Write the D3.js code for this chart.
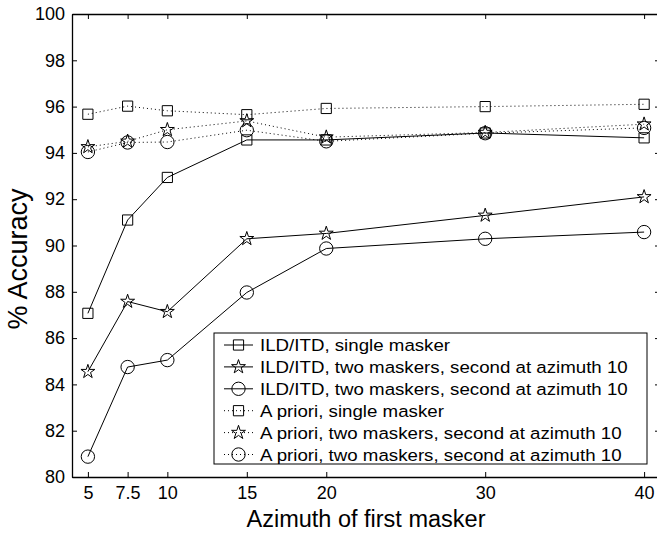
<!DOCTYPE html>
<html>
<head>
<meta charset="utf-8">
<script src="https://cdn.jsdelivr.net/npm/d3@7/dist/d3.min.js"></script>
<style>
  body { margin: 0; background: #fff; }
  svg text { font-family: "Liberation Sans", Arial, Helvetica, sans-serif; fill: #000; }
</style>
</head>
<body>
<svg id="chart" width="657" height="533"></svg>
<script>
// Azimuth of the first masker (degrees)
const azimuths = [5, 7.5, 10, 15, 20, 30, 40];

// % accuracy per condition
const ildSingle        = [87.07, 91.10, 92.94, 94.56, 94.56, 94.86, 94.65];
const ildTwoStar       = [84.55, 87.58, 87.14, 90.29, 90.52, 91.30, 92.10];
const ildTwoCircle     = [80.88, 84.75, 85.05, 87.97, 89.87, 90.29, 90.58];
const aprioriSingle    = [95.67, 96.02, 95.82, 95.65, 95.92, 96.00, 96.10];
const aprioriTwoStar   = [94.26, 94.50, 95.00, 95.38, 94.68, 94.88, 95.24];
const aprioriTwoCircle = [94.04, 94.45, 94.47, 94.98, 94.50, 94.85, 95.08];

const seriesLabels = [
  "ILD/ITD, single masker",
  "ILD/ITD, two maskers, second at azimuth 10",
  "ILD/ITD, two maskers, second at azimuth 10",
  "A priori, single masker",
  "A priori, two maskers, second at azimuth 10",
  "A priori, two maskers, second at azimuth 10"
];
const seriesValues = [ildSingle, ildTwoStar, ildTwoCircle, aprioriSingle, aprioriTwoStar, aprioriTwoCircle];
const seriesMarkers = ["square", "star", "circle", "square", "star", "circle"];
const seriesDotted = [false, false, false, true, true, true];

const xTicks = [5, 7.5, 10, 15, 20, 30, 40];
const yTicks = [80, 82, 84, 86, 88, 90, 92, 94, 96, 98, 100];

const xLabel = "Azimuth of first masker";
const yLabel = "% Accuracy";

// ---- layout ----
const plot = { left: 72, right: 660, top: 14, bottom: 477 };
const svg = d3.select("#chart");

const x = d3.scaleLinear().domain([4, 41]).range([plot.left, plot.right]);
const y = d3.scaleLinear().domain([80, 100]).range([plot.bottom, plot.top]);

const symbolFor = {
  square: d3.symbol().type(d3.symbolSquare).size(104),
  circle: d3.symbol().type(d3.symbolCircle).size(140),
  star:   d3.symbol().type(d3.symbolStar).size(60)
};

// ---- axes (ticks point inward, box style) ----
const fmt = d => String(d);
const tickLen = 5;

function styleAxis(g, fontSize) {
  g.selectAll("path.domain").attr("stroke", "#000").attr("stroke-width", 1.3);
  g.selectAll(".tick line").attr("stroke", "#000").attr("stroke-width", 1);
  g.selectAll(".tick text").style("font-size", fontSize + "px").attr("fill", "#000");
}

svg.append("g")
  .attr("transform", `translate(0,${plot.bottom})`)
  .call(d3.axisBottom(x).tickValues(xTicks).tickFormat(fmt).tickSizeInner(-tickLen).tickSizeOuter(0).tickPadding(9))
  .call(g => styleAxis(g, 18));

svg.append("g")
  .attr("transform", `translate(0,${plot.top})`)
  .call(d3.axisTop(x).tickValues(xTicks).tickFormat("").tickSizeInner(-tickLen).tickSizeOuter(0))
  .call(g => styleAxis(g, 18));

svg.append("g")
  .attr("transform", `translate(${plot.left},0)`)
  .call(d3.axisLeft(y).tickValues(yTicks).tickFormat(fmt).tickSizeInner(-tickLen).tickSizeOuter(0).tickPadding(7))
  .call(g => styleAxis(g, 18));

svg.append("g")
  .attr("transform", `translate(${plot.right},0)`)
  .call(d3.axisRight(y).tickValues(yTicks).tickFormat("").tickSizeInner(-tickLen).tickSizeOuter(0))
  .call(g => styleAxis(g, 18));

// axis titles
svg.append("text")
  .attr("x", (plot.left + plot.right) / 2)
  .attr("y", 527)
  .attr("text-anchor", "middle")
  .style("font-size", "23.5px")
  .text(xLabel);

svg.append("text")
  .attr("transform", "translate(27,259) rotate(-90)")
  .attr("text-anchor", "middle")
  .style("font-size", "27px")
  .text(yLabel);

// ---- series ----
const line = d3.line().x((d, i) => x(azimuths[i])).y(d => y(d));

seriesValues.forEach((vals, s) => {
  const g = svg.append("g").attr("class", "series");
  g.append("path")
    .datum(vals)
    .attr("d", line)
    .attr("fill", "none")
    .attr("stroke", "#000")
    .attr("stroke-width", 1)
    .attr("stroke-dasharray", seriesDotted[s] ? "1,3" : null);
  g.selectAll("path.marker")
    .data(vals)
    .join("path")
    .attr("class", "marker")
    .attr("transform", (d, i) => `translate(${x(azimuths[i])},${y(d)})`)
    .attr("d", symbolFor[seriesMarkers[s]]())
    .attr("fill", "none")
    .attr("stroke", "#000")
    .attr("stroke-width", 1);
});

// ---- legend ----
const legend = { x: 214, y: 333, w: 433, h: 131, rowH: 21.9, firstRow: 345, textX: 260, longWidth: 368 };
const lg = svg.append("g");
lg.append("rect")
  .attr("x", legend.x).attr("y", legend.y)
  .attr("width", legend.w).attr("height", legend.h)
  .attr("fill", "#fff").attr("stroke", "#000").attr("stroke-width", 1);

const labelNodes = [];
seriesLabels.forEach((label, s) => {
  const cy = legend.firstRow + s * legend.rowH;
  lg.append("line")
    .attr("x1", 224).attr("x2", 253).attr("y1", cy).attr("y2", cy)
    .attr("stroke", "#000").attr("stroke-width", 1)
    .attr("stroke-dasharray", seriesDotted[s] ? "1,3" : null);
  lg.append("path")
    .attr("transform", `translate(238.5,${cy})`)
    .attr("d", symbolFor[seriesMarkers[s]]())
    .attr("fill", "none").attr("stroke", "#000").attr("stroke-width", 1);
  const t = lg.append("text")
    .attr("data-cy", cy)
    .style("font-size", "16.5px")
    .text(label);
  labelNodes.push(t);
});

// legend lettering is a little wider than the axis font; stretch it horizontally
const widest = d3.max(labelNodes, t => t.node().getComputedTextLength());
const sx = legend.longWidth / widest;
labelNodes.forEach(t => {
  const cy = +t.attr("data-cy");
  t.attr("transform", `translate(${legend.textX},${cy + 6}) scale(${sx},1)`);
});
</script>
</body>
</html>
